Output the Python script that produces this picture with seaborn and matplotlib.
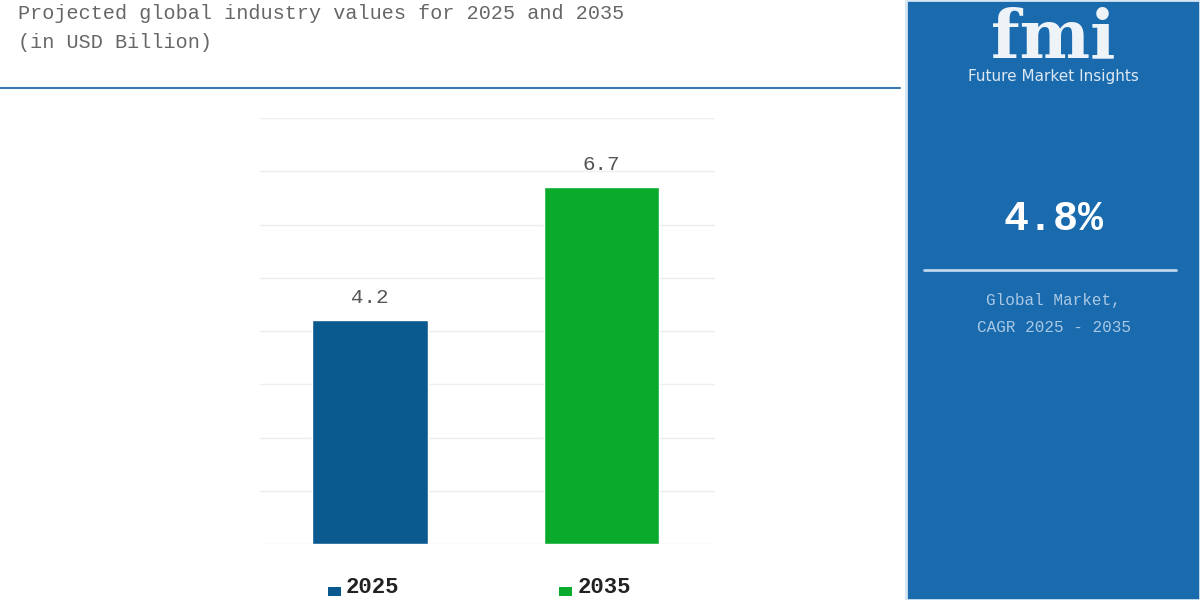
import matplotlib
matplotlib.use('Agg')
import matplotlib.pyplot as plt
import seaborn as sb
import pandas
from matplotlib.patches import Rectangle

years = ['2025', '2035']
values = [4.2, 6.7]
clrs = ['#0a5a8f', '#0aab2c']
cagr = '4.8%'

df = pandas.DataFrame({'year': years, 'value': values})

sb.set_style('white')
plt.rcParams['font.family'] = ['Liberation Mono', 'DejaVu Sans']

fig = plt.figure(figsize=(12, 6), dpi=100)
fig.patch.set_facecolor('white')

# header
fig.text(0.015, 0.978, 'Projected global industry values for 2025 and 2035',
         fontsize=14.5, color='#666666', va='center')
fig.text(0.015, 0.93, '(in USD Billion)', fontsize=14.5, color='#666666', va='center')
fig.add_artist(plt.Line2D([0, 0.75], [0.853, 0.853], color='#3b78b0', lw=1.5))

# right panel
fig.add_artist(Rectangle((0.755, 0), 0.245, 1, transform=fig.transFigure,
                         facecolor='#1a6aae', edgecolor='#d6e6f2', lw=2))
fig.text(0.878, 0.935, 'fmi', fontsize=48, color='#eef3f8', ha='center', va='center',
         family='DejaVu Serif', fontweight='bold')
fig.text(0.878, 0.872, 'Future Market Insights', fontsize=11, color='#dce8f3',
         ha='center', va='center', family='DejaVu Sans')
fig.text(0.878, 0.635, cagr, fontsize=30, color='white', ha='center', va='center',
         fontweight='bold')
fig.add_artist(plt.Line2D([0.77, 0.98], [0.55, 0.55], color='#bcd6ec', lw=2))
fig.text(0.878, 0.5, 'Global Market,', fontsize=11.5, color='#a9c8e4', ha='center', va='center')
fig.text(0.878, 0.455, 'CAGR 2025 - 2035', fontsize=11.5, color='#a9c8e4', ha='center', va='center')

# bar chart
ax = fig.add_axes([0.2167, 0.0933, 0.379, 0.71])
sb.barplot(data=df, x='year', y='value', hue='year', palette=clrs, width=0.5,
           legend=False, ax=ax, saturation=1)
ax.set_ylim(0, 8)
ax.set_xlim(-0.476, 1.49)
ax.set_yticks(range(0, 9))
ax.yaxis.grid(True, color='#eeeeee', lw=1)
ax.set_axisbelow(True)
ax.set_yticklabels([])
ax.set_xticklabels([])
ax.set_xlabel('')
ax.set_ylabel('')
ax.tick_params(length=0)
for s in ax.spines.values():
    s.set_visible(False)
for i, v in enumerate(values):
    ax.text(i, v + 0.25, f'{v}', ha='center', va='bottom', fontsize=15, color='#555555')

# legend at bottom
for i, y in enumerate(years):
    xc = [0.273, 0.466][i]
    fig.add_artist(Rectangle((xc, 0.006), 0.011, 0.015, transform=fig.transFigure,
                             facecolor=clrs[i], edgecolor='none'))
    fig.text(xc + 0.015, 0.004, y, fontsize=16, fontweight='bold', color='#222222',
             va='bottom')

fig.savefig('out.png', dpi=100)
